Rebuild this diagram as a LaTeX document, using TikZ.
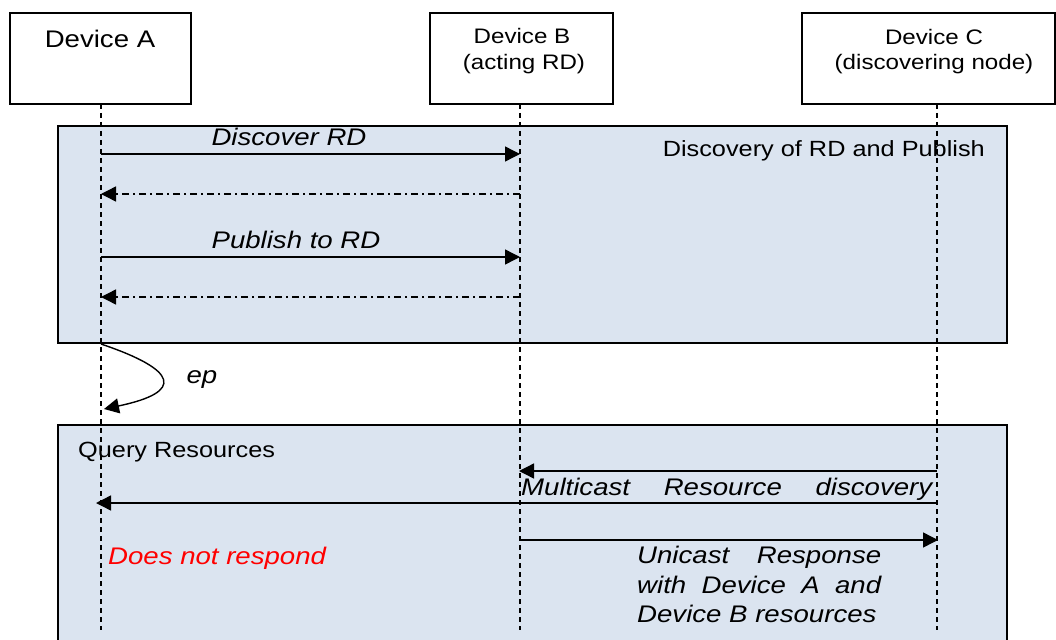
\documentclass[tikz,border=0pt]{standalone}
\usepackage{fontspec}
\setmainfont{Liberation Sans}[FakeStretch=1.15]
\usetikzlibrary{arrows.meta}
\definecolor{framefill}{HTML}{DBE4F0}
\begin{document}
\begin{tikzpicture}[x=1pt,y=-1pt,
  actor/.style={draw=black, line width=1.6pt, fill=white, inner sep=0pt, minimum height=91pt},
  frame/.style={draw=black, line width=1.5pt, fill=framefill},
  life/.style={line width=1.4pt, dash pattern=on 5pt off 4pt},
  msg/.style={line width=1.4pt, -{Triangle[length=15pt,width=15pt]}},
  reply/.style={msg, dash pattern=on 7pt off 4pt on 2pt off 4pt},
  txt/.style={inner sep=0pt, font=\fontsize{24}{29}\selectfont},
  itxt/.style={txt, font=\fontsize{24}{29}\selectfont\itshape},
  htxt/.style={inner sep=0pt, font=\fontsize{21}{26}\selectfont},
  ftxt/.style={inner sep=0pt, font=\fontsize{22}{27}\selectfont}]
\useasboundingbox (0,0) rectangle (1056,639);

% frames
\draw[frame] (58,126) rectangle (1007,343);
\draw[frame] (58,425) rectangle (1007,670);

% actor boxes
\node[actor, minimum width=181pt] (A) at (100.5,58.5) {};
\node[actor, minimum width=183pt] (B) at (521.5,58.5) {};
\node[actor, minimum width=253pt] (C) at (928.5,58.5) {};
\node[txt, anchor=base] (Atxt) at (100,48) {Device A};
\node[htxt, anchor=base] (Btxt1) at (522,44) {Device B};
\node[htxt, anchor=base] (Btxt2) at (524,70) {(acting RD)};
\node[htxt, anchor=base] (Ctxt1) at (934,45) {Device C};
\node[htxt, anchor=base] (Ctxt2) at (934,70) {(discovering node)};

% lifelines
\coordinate (la0) at (101,104); \coordinate (la1) at (101,630);
\coordinate (lb0) at (520,104); \coordinate (lb1) at (520,630);
\coordinate (lc0) at (937,104); \coordinate (lc1) at (937,630);
\draw[life] (la0) -- (la1);
\draw[life] (lb0) -- (lb1);
\draw[life] (lc0) -- (lc1);

% frame labels
\node[ftxt, anchor=base east] (F1lbl) at (985,157) {Discovery of RD and Publish};
\node[ftxt, anchor=base west] (F2lbl) at (78,457) {Query Resources};

% discovery messages
\coordinate (m1a) at (101,154); \coordinate (m1b) at (520,154);
\coordinate (m2a) at (520,194); \coordinate (m2b) at (101,194);
\coordinate (m3a) at (101,257); \coordinate (m3b) at (520,257);
\coordinate (m4a) at (520,297); \coordinate (m4b) at (101,297);
\draw[msg] (m1a) -- (m1b);
\draw[reply] (m2a) -- (m2b);
\draw[msg] (m3a) -- (m3b);
\draw[reply] (m4a) -- (m4b);
\node[itxt, anchor=base] (l1) at (289,146) {Discover RD};
\node[itxt, anchor=base] (l3) at (296,248) {Publish to RD};

% ep self arrow
\coordinate (ep0) at (101,344); \coordinate (ep1) at (104,409);
\draw[msg] (ep0) .. controls (178,370) and (185,392) .. (ep1);
\node[itxt, anchor=base] (eplbl) at (202,383) {ep};

% query messages
\coordinate (q1a) at (937,471); \coordinate (q1b) at (519,471);
\coordinate (q2a) at (937,503); \coordinate (q2b) at (96,503);
\coordinate (q3a) at (520,540); \coordinate (q3b) at (938,540);
\draw[msg] (q1a) -- (q1b);
\draw[msg] (q2a) -- (q2b);
\draw[msg] (q3a) -- (q3b);
\node[itxt, anchor=base west] (q1lbl) at (521,495) {\makebox[411pt][s]{Multicast Resource discovery}};
\node[itxt, anchor=base west, text=red] (nores) at (108,564) {Does not respond};
\node[itxt, anchor=base west] (u1) at (637,563) {\makebox[244pt][s]{Unicast Response}};
\node[itxt, anchor=base west] (u2) at (637,593) {\makebox[244pt][s]{with Device A and}};
\node[itxt, anchor=base west] (u3) at (637,622) {Device B resources};
\end{tikzpicture}
\end{document}
